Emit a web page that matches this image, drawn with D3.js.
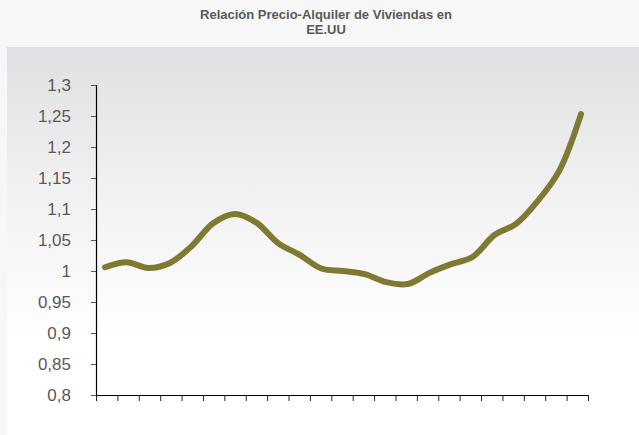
<!DOCTYPE html>
<html>
<head>
<meta charset="utf-8">
<script src="https://cdn.jsdelivr.net/npm/d3@7"></script>
<style>
  html, body { margin: 0; padding: 0; background: #f7f7f7; }
  svg { display: block; }
</style>
</head>
<body>
<svg id="chart" width="639" height="435"></svg>
<script>
// ---- data ----
const title = ["Relación Precio-Alquiler de Viviendas en", "EE.UU"];
const categories = ["1983","1984","1985","1986","1987","1988","1989","1990","1991","1992","1993","1994",
                    "1995","1996","1997","1998","1999","2000","2001","2002","2003","2004","2005"];
const ratio = [1.006, 1.014, 1.005, 1.013, 1.040, 1.077, 1.092, 1.078, 1.045, 1.026, 1.004, 1.000,
               0.995, 0.982, 0.979, 0.997, 1.011, 1.023, 1.058, 1.076, 1.113, 1.162, 1.253];
const yTicks = [0.8, 0.85, 0.9, 0.95, 1, 1.05, 1.1, 1.15, 1.2, 1.25, 1.3];

// ---- layout ----
const W = 639, H = 435;
const svg = d3.select("#chart");
const plot = { left: 96, right: 588, top: 85, bottom: 395 };

// background
const defs = svg.append("defs");
const grad = defs.append("linearGradient").attr("id", "bg").attr("x1", 0).attr("y1", 0).attr("x2", 0).attr("y2", 1);
grad.append("stop").attr("offset", "0%").attr("stop-color", "#dfe0e3");
grad.append("stop").attr("offset", "35%").attr("stop-color", "#f0f0f1");
grad.append("stop").attr("offset", "75%").attr("stop-color", "#ffffff");
grad.append("stop").attr("offset", "100%").attr("stop-color", "#ffffff");
svg.append("rect").attr("x", 0).attr("y", 0).attr("width", W).attr("height", H).attr("fill", "#f7f7f7");
svg.append("rect").attr("x", 7).attr("y", 47).attr("width", W - 7).attr("height", H - 47).attr("fill", "url(#bg)");

// title
const t = svg.append("text").attr("text-anchor", "middle")
  .attr("font-family", "'Liberation Sans', Arial, sans-serif")
  .attr("font-size", 13).attr("font-weight", "bold").attr("fill", "#595959");
title.forEach((s, i) => t.append("tspan").attr("x", 326).attr("y", 19 + i * 14.5).text(s));

// scales
const y = d3.scaleLinear().domain([0.8, 1.3]).range([plot.bottom, plot.top]);
const xTick = d3.scaleLinear().domain([0, categories.length]).range([plot.left, plot.right]);
const x = d3.scalePoint().domain(categories).range([105, 581]);

const locale = d3.formatLocale({ decimal: ",", thousands: ".", grouping: [3], currency: ["", "€"] });
const fmt = locale.format(".2~f");

// y axis
const yAxis = svg.append("g").attr("transform", `translate(${plot.left},0)`)
  .call(d3.axisLeft(y).tickValues(yTicks).tickFormat(fmt).tickSize(5).tickPadding(20));
yAxis.select(".domain").attr("stroke", "#000").attr("stroke-width", 1.2);
yAxis.selectAll(".tick line").attr("stroke", "#555");
yAxis.selectAll(".tick text")
  .attr("font-family", "'Liberation Sans', Arial, sans-serif")
  .attr("font-size", 17).attr("fill", "#595959");

// x axis
const xAxis = svg.append("g").attr("transform", `translate(0,${plot.bottom})`)
  .call(d3.axisBottom(xTick).tickValues(d3.range(0, categories.length + 1)).tickFormat("").tickSize(6).tickSizeOuter(0));
xAxis.select(".domain").attr("stroke", "#000").attr("stroke-width", 1.2);
xAxis.selectAll(".tick line").attr("stroke", "#222");

// line
const line = d3.line()
  .x((d, i) => x(categories[i]))
  .y(d => y(d))
  .curve(d3.curveCatmullRom.alpha(0.5));

svg.append("path").datum(ratio)
  .attr("d", line)
  .attr("fill", "none")
  .attr("stroke", "#7f7a31")
  .attr("stroke-width", 6)
  .attr("stroke-linecap", "round")
  .attr("stroke-linejoin", "round");
</script>
</body>
</html>
